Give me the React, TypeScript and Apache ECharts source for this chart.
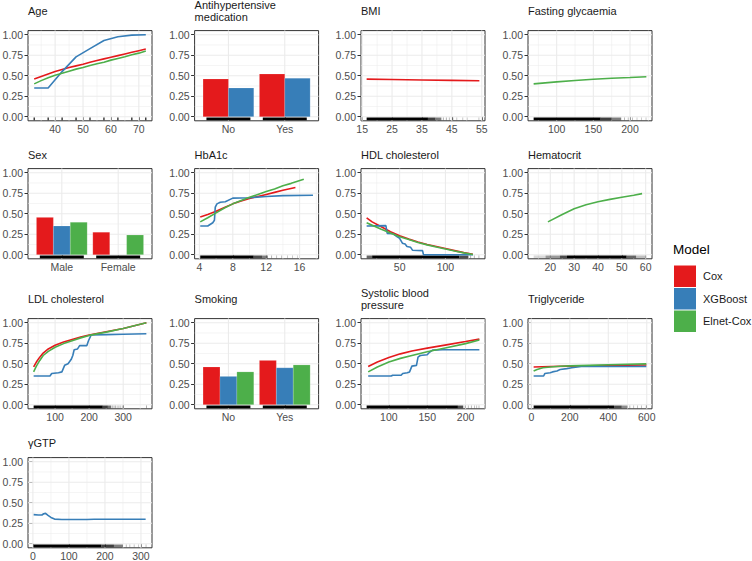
import React, { useEffect, useRef } from "react";
import * as echarts from "echarts";

type Pt = [number, number];
type RugSeg = [number, number, number];

const FONT = "'Liberation Sans', Arial, Helvetica, sans-serif";
const MODELS = ["Cox", "XGBoost", "Elnet-Cox"];
const MODEL_COLORS: Record<string, string> = { Cox: "#E41A1C", XGBoost: "#377EB8", "Elnet-Cox": "#4DAF4A" };
const Y_BREAKS = [0, 0.25, 0.5, 0.75, 1];
const Y_MINOR = [0.125, 0.375, 0.625, 0.875];

// ---- Age
const ageBreaks = [40, 50, 60, 70];
const ageCox: Pt[] = [[32.5, 0.46], [35, 0.49], [37.5, 0.52], [40, 0.55], [42.5, 0.575], [45, 0.6], [47.5, 0.62], [50, 0.64], [52.5, 0.665], [55, 0.685], [57.5, 0.705], [60, 0.725], [62.5, 0.745], [65, 0.765], [67.5, 0.785], [70, 0.805], [72.5, 0.825]];
const ageXgb: Pt[] = [[32.5, 0.35], [37.5, 0.35], [42.5, 0.55], [47.5, 0.73], [52.5, 0.83], [57.5, 0.93], [62.5, 0.975], [67.5, 0.995], [72.5, 1.0]];
const ageElnet: Pt[] = [[32.5, 0.4], [35, 0.44], [37.5, 0.475], [40, 0.505], [42.5, 0.53], [45, 0.555], [47.5, 0.58], [50, 0.6], [52.5, 0.625], [55, 0.645], [57.5, 0.665], [60, 0.69], [62.5, 0.71], [65, 0.73], [67.5, 0.755], [70, 0.775], [72.5, 0.8]];
const ageRug: RugSeg[] = [[32.3, 32.7, 1], [37.3, 37.7, 1], [42.3, 42.7, 1], [47.3, 47.7, 1], [52.3, 52.7, 1], [57.3, 57.7, 1], [62.3, 62.7, 1], [67.3, 67.7, 1], [72.3, 72.7, 1]];

// ---- Antihypertensive medication
const antiCats = ["No", "Yes"];
const antiCox = [0.46, 0.52];
const antiXgb = [0.35, 0.47];

// ---- BMI
const bmiBreaks = [15, 25, 35, 45, 55];
const bmiCox: Pt[] = [[16.5, 0.458], [25, 0.453], [35, 0.448], [45, 0.443], [54.2, 0.439]];
const bmiRug: RugSeg[] = [[16.5, 37, 1], [37, 39.5, 0.75], [39.5, 41.5, 0.5], [42, 42.3, 0.35], [43, 43.3, 0.35], [44, 44.3, 0.3], [45.2, 45.5, 0.3], [46.5, 46.8, 0.25], [48.5, 48.8, 0.25], [50, 50.3, 0.2], [53.9, 54.2, 0.25]];

// ---- Fasting glycaemia
const fastBreaks = [100, 150, 200];
const fastElnet: Pt[] = [[68.6, 0.4], [100, 0.425], [125, 0.442], [150, 0.457], [175, 0.468], [200, 0.478], [222.3, 0.488]];
const fastRug: RugSeg[] = [[68.6, 160, 1], [160, 175, 0.75], [175, 188, 0.5], [192, 193, 0.35], [197, 198, 0.3], [203, 204, 0.3], [209, 210, 0.25], [215, 216, 0.25], [221.3, 222.3, 0.25]];

// ---- Sex
const sexCats = ["Male", "Female"];
const sexCox = [0.455, 0.275];
const sexXgb: (number | null)[] = [0.35, null];
const sexElnet = [0.395, 0.24];

// ---- HbA1c
const hbBreaks = [4, 8, 12, 16];
const hbCox: Pt[] = [[4.1, 0.46], [5, 0.49], [6, 0.53], [7, 0.575], [8, 0.62], [9, 0.655], [10, 0.685], [11, 0.71], [12, 0.735], [13, 0.76], [14, 0.785], [15.5, 0.82]];
const hbXgb: Pt[] = [[4.1, 0.35], [5.0, 0.35], [5.6, 0.39], [5.8, 0.42], [5.9, 0.58], [6.1, 0.62], [6.5, 0.64], [7.1, 0.645], [8.0, 0.69], [10.0, 0.695], [12, 0.71], [14, 0.72], [17.6, 0.725]];
const hbElnet: Pt[] = [[4.1, 0.4], [5, 0.45], [6, 0.51], [7, 0.57], [8, 0.62], [9, 0.66], [10, 0.7], [11, 0.735], [12, 0.77], [13, 0.8], [14, 0.84], [15, 0.87], [16.5, 0.92]];
const hbRug: RugSeg[] = [[4.1, 10.5, 1], [10.5, 11.5, 0.7], [11.5, 12.2, 0.5], [12.6, 12.7, 0.35], [13.2, 13.3, 0.3], [13.8, 13.9, 0.3], [14.5, 14.6, 0.25], [15.1, 15.2, 0.25], [15.7, 15.8, 0.2]];

// ---- HDL cholesterol
const hdlBreaks = [50, 100];
const hdlCox: Pt[] = [[14, 0.45], [20, 0.4], [30, 0.34], [40, 0.28], [50, 0.23], [60, 0.19], [70, 0.155], [80, 0.125], [90, 0.1], [100, 0.075], [110, 0.05], [120, 0.025], [130, 0.005]];
const hdlXgb: Pt[] = [[14, 0.35], [35, 0.355], [36.5, 0.26], [43, 0.255], [47, 0.22], [50, 0.2], [53, 0.14], [56, 0.13], [58, 0.1], [62, 0.09], [64, 0.055], [75, 0.05], [76, 0], [130, 0]];
const hdlElnet: Pt[] = [[14, 0.39], [20, 0.36], [30, 0.31], [40, 0.265], [50, 0.22], [60, 0.185], [70, 0.15], [80, 0.12], [90, 0.095], [100, 0.07], [110, 0.045], [120, 0.022], [130, 0.003]];
const hdlRug: RugSeg[] = [[14, 20, 0.6], [20, 115, 1], [115, 125, 0.7], [127, 128, 0.35], [131, 132, 0.3], [136, 137, 0.3]];

// ---- Hematocrit
const hctBreaks = [20, 30, 40, 50, 60];
const hctElnet: Pt[] = [[19, 0.4], [25, 0.49], [30, 0.56], [35, 0.61], [40, 0.645], [45, 0.675], [50, 0.7], [55, 0.725], [58.5, 0.745]];
const hctRug: RugSeg[] = [[13, 18, 0.15], [18, 24, 0.4], [24, 27, 0.7], [27, 52, 1], [52, 56, 0.6], [56, 60.3, 0.25]];

// ---- LDL cholesterol
const ldlBreaks = [100, 200, 300];
const ldlCox: Pt[] = [[37, 0.46], [45, 0.52], [55, 0.58], [65, 0.63], [80, 0.68], [100, 0.725], [125, 0.765], [150, 0.795], [175, 0.825], [200, 0.85], [250, 0.89], [300, 0.93], [368, 1.0]];
const ldlXgb: Pt[] = [[37, 0.35], [85, 0.35], [90, 0.38], [110, 0.39], [120, 0.4], [128, 0.48], [138, 0.5], [147, 0.55], [152, 0.6], [156, 0.67], [166, 0.68], [172, 0.72], [193, 0.72], [198, 0.78], [206, 0.85], [250, 0.855], [300, 0.86], [368, 0.865]];
const ldlElnet: Pt[] = [[37, 0.4], [45, 0.47], [55, 0.54], [65, 0.6], [80, 0.65], [100, 0.7], [125, 0.745], [150, 0.78], [175, 0.815], [200, 0.845], [250, 0.885], [300, 0.93], [368, 1.0]];
const ldlRug: RugSeg[] = [[37, 240, 1], [240, 255, 0.75], [255, 265, 0.55], [268, 269, 0.35], [272, 273, 0.35], [276, 277, 0.35], [281, 282, 0.3], [286, 287, 0.3], [290, 291, 0.3], [296, 297, 0.3], [300, 301, 0.3], [367, 368, 0.4]];

// ---- Smoking
const smkCats = ["No", "Yes"];
const smkCox = [0.46, 0.54];
const smkXgb = [0.345, 0.45];
const smkElnet = [0.4, 0.485];

// ---- Systolic blood pressure
const sbpBreaks = [100, 150, 200];
const sbpCox: Pt[] = [[73, 0.465], [85, 0.52], [100, 0.575], [115, 0.62], [130, 0.655], [150, 0.69], [175, 0.73], [200, 0.77], [218, 0.8]];
const sbpXgb: Pt[] = [[73, 0.35], [103, 0.35], [105, 0.36], [116, 0.36], [118, 0.38], [124, 0.39], [127, 0.4], [130, 0.47], [136, 0.48], [138, 0.58], [141, 0.6], [150, 0.61], [153, 0.64], [157, 0.665], [170, 0.67], [218, 0.67]];
const sbpElnet: Pt[] = [[73, 0.4], [85, 0.46], [100, 0.52], [115, 0.565], [130, 0.6], [150, 0.645], [175, 0.695], [200, 0.745], [218, 0.79]];
const sbpRug: RugSeg[] = [[71, 190, 1], [190, 197, 0.7], [199, 200, 0.4], [203, 204, 0.35], [207, 208, 0.35], [211, 212, 0.3], [214, 215, 0.3], [217, 218, 0.3]];

// ---- Triglyceride
const tgBreaks = [0, 200, 400, 600];
const tgCox: Pt[] = [[12, 0.46], [100, 0.465], [200, 0.47], [300, 0.475], [400, 0.478], [500, 0.481], [598, 0.484]];
const tgXgb: Pt[] = [[12, 0.35], [64, 0.35], [70, 0.38], [98, 0.39], [110, 0.4], [133, 0.41], [150, 0.43], [184, 0.44], [210, 0.45], [240, 0.46], [270, 0.47], [400, 0.465], [598, 0.465]];
const tgElnet: Pt[] = [[12, 0.41], [30, 0.43], [60, 0.45], [100, 0.46], [150, 0.468], [200, 0.473], [300, 0.48], [400, 0.487], [500, 0.493], [598, 0.498]];
const tgRug: RugSeg[] = [[12, 430, 1], [430, 470, 0.7], [470, 500, 0.45], [510, 513, 0.35], [530, 533, 0.3], [550, 553, 0.3], [570, 573, 0.3], [595, 598, 0.3]];

// ---- γGTP
const ggtBreaks = [0, 100, 200, 300];
const ggtXgb: Pt[] = [[2, 0.355], [15, 0.35], [25, 0.35], [30, 0.365], [35, 0.37], [42, 0.345], [50, 0.32], [60, 0.3], [80, 0.295], [150, 0.295], [170, 0.298], [313, 0.298]];
const ggtRug: RugSeg[] = [[2, 190, 1], [190, 225, 0.75], [225, 250, 0.5], [258, 260, 0.35], [268, 270, 0.3], [280, 282, 0.3], [292, 294, 0.25], [313, 315, 0.3]];

const catRug: RugSeg[] = [[0.61, 1.39, 1], [1.61, 2.39, 1]];

interface Panel {
  title: string;
  kind: "line" | "bar";
  breaks?: number[];
  lines?: { model: string; data: Pt[] }[];
  cats?: string[];
  bars?: { model: string; values: (number | null)[] }[];
  rug: RugSeg[];
}

const PANELS: Panel[] = [
  { title: "Age", kind: "line", breaks: ageBreaks, lines: [{ model: "Cox", data: ageCox }, { model: "XGBoost", data: ageXgb }, { model: "Elnet-Cox", data: ageElnet }], rug: ageRug },
  { title: "Antihypertensive\nmedication", kind: "bar", cats: antiCats, bars: [{ model: "Cox", values: antiCox }, { model: "XGBoost", values: antiXgb }], rug: catRug },
  { title: "BMI", kind: "line", breaks: bmiBreaks, lines: [{ model: "Cox", data: bmiCox }], rug: bmiRug },
  { title: "Fasting glycaemia", kind: "line", breaks: fastBreaks, lines: [{ model: "Elnet-Cox", data: fastElnet }], rug: fastRug },
  { title: "Sex", kind: "bar", cats: sexCats, bars: [{ model: "Cox", values: sexCox }, { model: "XGBoost", values: sexXgb }, { model: "Elnet-Cox", values: sexElnet }], rug: catRug },
  { title: "HbA1c", kind: "line", breaks: hbBreaks, lines: [{ model: "Cox", data: hbCox }, { model: "XGBoost", data: hbXgb }, { model: "Elnet-Cox", data: hbElnet }], rug: hbRug },
  { title: "HDL cholesterol", kind: "line", breaks: hdlBreaks, lines: [{ model: "Cox", data: hdlCox }, { model: "XGBoost", data: hdlXgb }, { model: "Elnet-Cox", data: hdlElnet }], rug: hdlRug },
  { title: "Hematocrit", kind: "line", breaks: hctBreaks, lines: [{ model: "Elnet-Cox", data: hctElnet }], rug: hctRug },
  { title: "LDL cholesterol", kind: "line", breaks: ldlBreaks, lines: [{ model: "Cox", data: ldlCox }, { model: "XGBoost", data: ldlXgb }, { model: "Elnet-Cox", data: ldlElnet }], rug: ldlRug },
  { title: "Smoking", kind: "bar", cats: smkCats, bars: [{ model: "Cox", values: smkCox }, { model: "XGBoost", values: smkXgb }, { model: "Elnet-Cox", values: smkElnet }], rug: catRug },
  { title: "Systolic blood\npressure", kind: "line", breaks: sbpBreaks, lines: [{ model: "Cox", data: sbpCox }, { model: "XGBoost", data: sbpXgb }, { model: "Elnet-Cox", data: sbpElnet }], rug: sbpRug },
  { title: "Triglyceride", kind: "line", breaks: tgBreaks, lines: [{ model: "Cox", data: tgCox }, { model: "XGBoost", data: tgXgb }, { model: "Elnet-Cox", data: tgElnet }], rug: tgRug },
  { title: "γGTP", kind: "line", breaks: ggtBreaks, lines: [{ model: "XGBoost", data: ggtXgb }], rug: ggtRug },
];

// layout
const COL_LEFT = [28, 194.6, 361, 528];
const ROW_TOP = [30.6, 168.6, 318.6, 457.6];
const PANEL_W = 124;
const PANEL_H = 90.2;
const TITLE_CENTER = [11.2, 155.7, 299, 443];
const Y_MIN = -0.05;
const Y_MAX = 1.05;

function buildOption() {
  const grid: any[] = [];
  const xAxis: any[] = [];
  const yAxis: any[] = [];
  const series: any[] = [];
  const title: any[] = [];

  PANELS.forEach((p, k) => {
    const r = Math.floor(k / 4);
    const c = k % 4;
    grid.push({
      left: COL_LEFT[c], top: ROW_TOP[r], width: PANEL_W, height: PANEL_H,
      show: true, borderColor: "#333333", borderWidth: 1, backgroundColor: "#ffffff",
      containLabel: false, outerBoundsMode: "none",
    });

    let xmin: number, xmax: number, majors: number[];
    const minors: number[] = [];
    let fmt: (v: number) => string;
    if (p.kind === "bar") {
      const cats = p.cats!;
      xmin = 0.4; xmax = cats.length + 0.6;
      majors = cats.map((_, i) => i + 1);
      fmt = (v: number) => cats[Math.round(v) - 1] ?? "";
    } else {
      let lo = Infinity, hi = -Infinity;
      p.lines!.forEach((l) => l.data.forEach(([x]) => { lo = Math.min(lo, x); hi = Math.max(hi, x); }));
      p.rug.forEach(([a, b]) => { lo = Math.min(lo, a); hi = Math.max(hi, b); });
      const R = hi - lo;
      xmin = lo - 0.05 * R; xmax = hi + 0.05 * R;
      majors = p.breaks!;
      const step = majors[1] - majors[0];
      const ext = [majors[0] - step, ...majors, majors[majors.length - 1] + step];
      for (let i = 0; i < ext.length - 1; i++) {
        const m = (ext[i] + ext[i + 1]) / 2;
        if (m > xmin && m < xmax) minors.push(m);
      }
      fmt = (v: number) => String(v);
    }

    xAxis.push({
      type: "value", gridIndex: k, min: xmin, max: xmax, position: "bottom",
      axisLine: { show: false },
      axisTick: { show: true, length: 3.5, lineStyle: { color: "#333333", width: 1 }, customValues: majors },
      axisLabel: { show: true, customValues: majors, formatter: fmt, fontFamily: FONT, fontSize: 10.5, color: "#4D4D4D", margin: 3 },
      splitLine: { show: false }, minorSplitLine: { show: false },
    });
    yAxis.push({
      type: "value", gridIndex: k, min: Y_MIN, max: Y_MAX,
      axisLine: { show: false },
      axisTick: { show: true, length: 3.5, lineStyle: { color: "#333333", width: 1 }, customValues: Y_BREAKS },
      axisLabel: { show: true, customValues: Y_BREAKS, formatter: (v: number) => v.toFixed(2), fontFamily: FONT, fontSize: 10.5, color: "#4D4D4D", margin: 5 },
      splitLine: { show: false },
    });

    // grid lines (minor then major)
    const gl: number[][] = [];
    minors.forEach((v) => gl.push([1, v, 1]));
    Y_MINOR.forEach((v) => gl.push([0, v, 1]));
    majors.forEach((v) => gl.push([1, v, 0]));
    Y_BREAKS.forEach((v) => gl.push([0, v, 0]));
    const gx0 = xmin, gx1 = xmax;
    series.push({
      type: "custom", name: "gridlines-" + k, xAxisIndex: k, yAxisIndex: k, z: 1, silent: true,
      data: gl,
      renderItem: (_params: any, api: any) => {
        const isX = api.value(0);
        const v = api.value(1);
        const minor = api.value(2);
        const p1 = isX ? api.coord([v, Y_MIN]) : api.coord([gx0, v]);
        const p2 = isX ? api.coord([v, Y_MAX]) : api.coord([gx1, v]);
        return {
          type: "line",
          shape: { x1: p1[0], y1: p1[1], x2: p2[0], y2: p2[1] },
          style: { stroke: "#EBEBEB", lineWidth: minor ? 0.55 : 1.1 },
        };
      },
    });

    // rug
    series.push({
      type: "custom", name: "rug-" + k, xAxisIndex: k, yAxisIndex: k, z: 2, silent: true,
      data: p.rug,
      renderItem: (_params: any, api: any) => {
        const a = api.value(0), b = api.value(1), alpha = api.value(2);
        const p0 = api.coord([a, Y_MIN + 0.006]);
        const p1 = api.coord([b, -0.01]);
        return {
          type: "rect",
          shape: { x: p0[0], y: p1[1], width: Math.max(p1[0] - p0[0], 0.8), height: p0[1] - p1[1] },
          style: { fill: "#000000", opacity: alpha },
        };
      },
    });

    if (p.kind === "bar") {
      const nb = p.bars!.length;
      p.bars!.forEach((b, i) => {
        const color = MODEL_COLORS[b.model];
        const data: Pt[] = [];
        b.values.forEach((v, ci) => { if (v !== null) data.push([ci + 1, v]); });
        series.push({
          type: "custom", name: b.model, xAxisIndex: k, yAxisIndex: k, z: 3,
          itemStyle: { color },
          data,
          renderItem: (_params: any, api: any) => {
            const cx = api.value(0), v = api.value(1);
            const w = 0.9 / nb;
            const x0 = cx - 0.45 + i * w;
            const q0 = api.coord([x0, 0]);
            const q1 = api.coord([x0 + w, v]);
            return {
              type: "rect",
              shape: { x: q0[0], y: q1[1], width: q1[0] - q0[0], height: q0[1] - q1[1] },
              style: { fill: color, stroke: "rgba(255,255,255,0.3)", lineWidth: 0.5 },
            };
          },
        });
      });
    } else {
      p.lines!.forEach((l) => {
        const color = MODEL_COLORS[l.model];
        series.push({
          type: "line", name: l.model, xAxisIndex: k, yAxisIndex: k, z: 4,
          data: l.data, showSymbol: false, symbol: "none", smooth: false,
          lineStyle: { color, width: 1.6 }, itemStyle: { color },
          emphasis: { disabled: true },
        });
      });
    }

    const two = p.title.includes("\n");
    title.push({
      text: p.title, left: COL_LEFT[c],
      top: two ? TITLE_CENTER[r] - 11.5 : TITLE_CENTER[r] - 6,
      padding: 0,
      textStyle: { fontFamily: FONT, fontSize: 11, fontWeight: "normal", color: "#1A1A1A", lineHeight: 11.5 },
    });
  });

  title.push({
    text: "Model", left: 673, top: 242, padding: 0,
    textStyle: { fontFamily: FONT, fontSize: 13.5, fontWeight: "normal", color: "#000000" },
  });

  return {
    animation: false,
    backgroundColor: "#ffffff",
    title,
    grid,
    xAxis,
    yAxis,
    series,
    legend: {
      show: true, orient: "vertical", left: 674, top: 265.5, padding: 0,
      itemWidth: 22, itemHeight: 21.5, itemGap: 1, icon: "rect", selectedMode: false,
      textStyle: { fontFamily: FONT, fontSize: 11, color: "#1A1A1A", padding: [0, 0, 0, 2] },
      itemStyle: { borderWidth: 0 },
      data: MODELS.map((name) => ({ name, itemStyle: { color: MODEL_COLORS[name], borderWidth: 0 } })),
    },
  };
}

export default function App() {
  const ref = useRef<HTMLDivElement>(null);
  useEffect(() => {
    document.body.style.margin = "0";
    const chart = echarts.init(ref.current as HTMLDivElement, undefined, { renderer: "svg" });
    chart.setOption(buildOption() as any);
    return () => chart.dispose();
  }, []);
  return <div ref={ref} style={{ width: 752, height: 561 }} />;
}
